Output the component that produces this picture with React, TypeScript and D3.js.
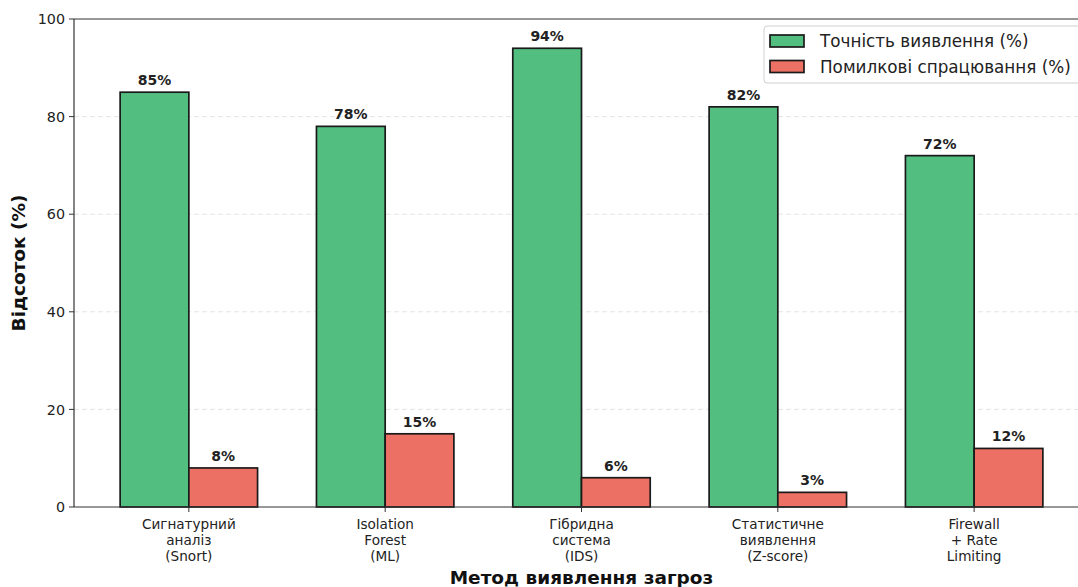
import React from "react";
import * as d3 from "d3";

const methods: string[][] = [
  ["Сигнатурний", "аналіз", "(Snort)"],
  ["Isolation", "Forest", "(ML)"],
  ["Гібридна", "система", "(IDS)"],
  ["Статистичне", "виявлення", "(Z-score)"],
  ["Firewall", "+ Rate", "Limiting"],
];
const accuracy: number[] = [85, 78, 94, 82, 72];
const falsePositives: number[] = [8, 15, 6, 3, 12];
const yTicks: number[] = [0, 20, 40, 60, 80, 100];

const seriesNames = ["Точність виявлення (%)", "Помилкові спрацювання (%)"];
const colors = ["#52BE80", "#EC7063"];

const W = 1078;
const H = 587;
const plot = { left: 74, right: 1089, top: 19, bottom: 507 };
const barW = 0.35;
const FONT = "DejaVu Sans, sans-serif";

export default function App() {
  const x = d3
    .scaleLinear()
    .domain([-0.585, methods.length - 1 + 0.585])
    .range([plot.left, plot.right]);
  const y = d3.scaleLinear().domain([0, 100]).range([plot.bottom, plot.top]);

  const series = [accuracy, falsePositives];

  return (
    <svg
      width={W}
      height={H}
      style={{ position: "absolute", left: 0, top: 0, background: "#fff" }}
      fontFamily={FONT}
    >
      {/* grid */}
      {yTicks
        .filter((t) => t > 0 && t < 100)
        .map((t) => (
          <line
            key={"g" + t}
            x1={plot.left}
            x2={plot.right}
            y1={y(t)}
            y2={y(t)}
            stroke="#b0b0b0"
            strokeOpacity={0.35}
            strokeDasharray="5,3"
            strokeWidth={1}
          />
        ))}

      {/* bars */}
      {series.map((vals, si) =>
        vals.map((v, i) => {
          const x0 = x(i + (si === 0 ? -barW : 0));
          const x1 = x(i + (si === 0 ? 0 : barW));
          return (
            <g key={`b${si}-${i}`}>
              <rect
                x={x0}
                y={y(v)}
                width={x1 - x0}
                height={y(0) - y(v)}
                fill={colors[si]}
                stroke="#1a1a1a"
                strokeWidth={1.7}
              />
              <text
                x={(x0 + x1) / 2}
                y={y(v) - 7}
                textAnchor="middle"
                fontSize={14}
                fontWeight="bold"
                fill="#222"
              >
                {v}%
              </text>
            </g>
          );
        })
      )}

      {/* spines */}
      <g stroke="#333" strokeWidth={1.2} fill="none">
        <line x1={plot.left} x2={plot.left} y1={plot.top} y2={plot.bottom} />
        <line x1={plot.left} x2={plot.right} y1={plot.bottom} y2={plot.bottom} />
        <line x1={plot.left} x2={plot.right} y1={plot.top} y2={plot.top} />
        <line x1={plot.right} x2={plot.right} y1={plot.top} y2={plot.bottom} />
      </g>

      {/* y axis */}
      {yTicks.map((t) => (
        <g key={"y" + t}>
          <line x1={plot.left - 5} x2={plot.left} y1={y(t)} y2={y(t)} stroke="#333" strokeWidth={1} />
          <text
            x={plot.left - 9}
            y={y(t)}
            dy="0.36em"
            textAnchor="end"
            fontSize={14.3}
            fill="#222"
          >
            {t}
          </text>
        </g>
      ))}
      <text
        transform={`translate(25, ${(plot.top + plot.bottom) / 2}) rotate(-90)`}
        textAnchor="middle"
        fontSize={18.5}
        fontWeight="bold"
        fill="#111"
      >
        Відсоток (%)
      </text>

      {/* x axis */}
      {methods.map((lines, i) => (
        <g key={"x" + i}>
          <line x1={x(i)} x2={x(i)} y1={plot.bottom} y2={plot.bottom + 5} stroke="#333" strokeWidth={1} />
          {lines.map((ln, j) => (
            <text
              key={j}
              x={x(i)}
              y={plot.bottom + 22 + j * 15.8}
              textAnchor="middle"
              fontSize={13.6}
              fill="#222"
            >
              {ln}
            </text>
          ))}
        </g>
      ))}
      <text
        x={(plot.left + plot.right) / 2}
        y={584}
        textAnchor="middle"
        fontSize={18.5}
        fontWeight="bold"
        fill="#111"
      >
        Метод виявлення загроз
      </text>

      {/* legend */}
      <g>
        <rect
          x={764}
          y={26}
          width={317}
          height={57}
          rx={3}
          fill="#fff"
          fillOpacity={0.85}
          stroke="#d0d0d0"
          strokeWidth={1}
        />
        {seriesNames.map((name, i) => (
          <g key={"l" + i} transform={`translate(770, ${35 + i * 25.5})`}>
            <rect
              width={34}
              height={12}
              fill={colors[i]}
              stroke="#1a1a1a"
              strokeWidth={1.7}
            />
            <text x={50} y={6} dy="0.36em" fontSize={16.8} fill="#222">
              {name}
            </text>
          </g>
        ))}
      </g>
    </svg>
  );
}
